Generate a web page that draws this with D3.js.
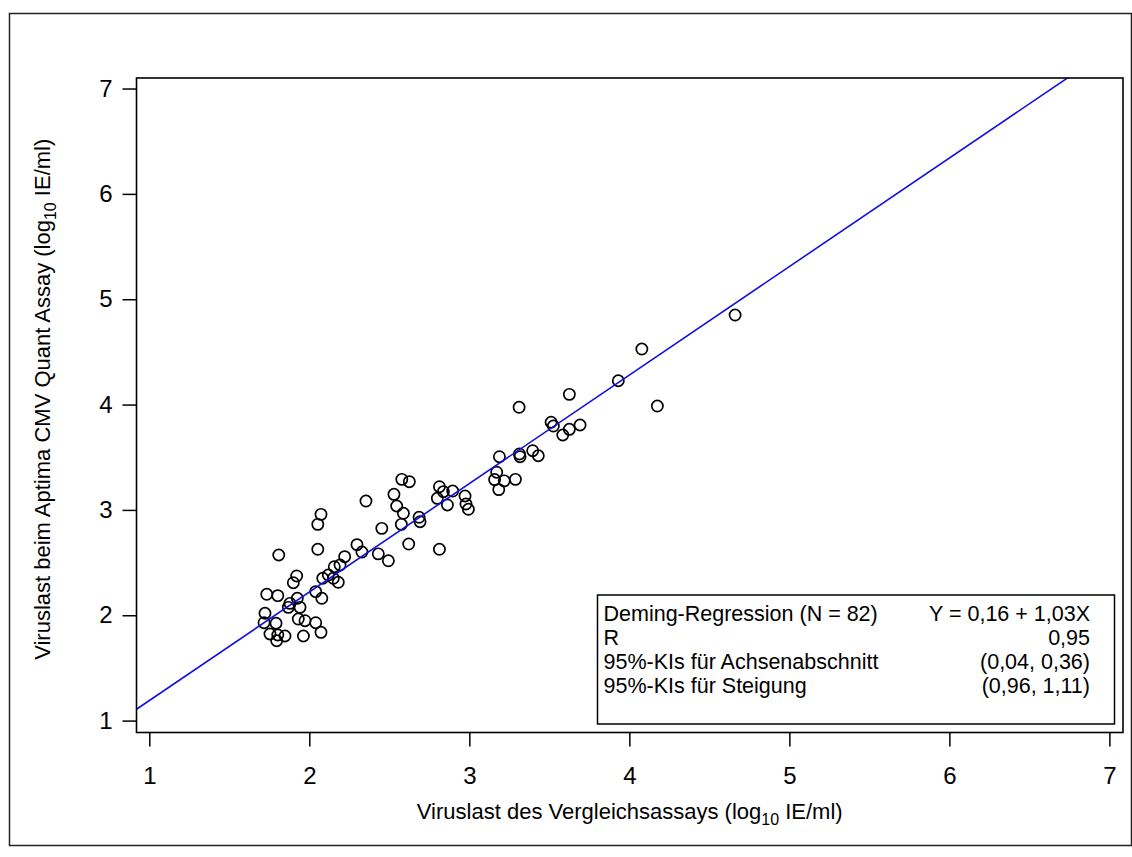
<!DOCTYPE html>
<html>
<head>
<meta charset="utf-8">
<script src="https://cdn.jsdelivr.net/npm/d3@7"></script>
<style>
  html, body { margin: 0; padding: 0; background: #fff; }
  svg { display: block; }
  text { font-family: "Liberation Sans", Arial, sans-serif; fill: #000; }
</style>
</head>
<body>
<svg id="chart" width="1132" height="857"></svg>
<script>
// ---- data ----
const comparatorLog = [
  2.354, 2.546, 2.588, 2.686, 2.575, 2.073, 2.053, 2.453, 2.621, 2.298,
  2.329, 2.053, 1.809, 2.221, 2.431, 2.494, 2.192, 2.156, 2.119, 2.084,
  2.150, 2.181, 1.921, 1.900, 1.734, 1.803, 2.040, 2.078, 1.879, 1.869,
  1.925, 1.942, 1.723, 1.717, 1.792, 1.931, 1.973, 2.040, 1.754, 1.803,
  1.848, 1.796, 1.963, 2.073, 2.692, 2.529, 2.578, 2.625, 2.813, 2.838,
  2.896, 2.800, 2.863, 2.973, 2.979, 2.994, 2.813, 3.311, 3.511, 3.525,
  3.625, 3.584, 3.692, 3.625, 3.188, 3.313, 3.317, 3.396, 3.431, 3.171,
  3.158, 3.218, 3.288, 3.184, 4.078, 3.931, 4.175, 4.661
];
const aptimaLog = [
  3.084, 3.037, 2.968, 2.930, 2.863, 2.958, 2.863, 2.825, 2.676, 2.670,
  2.600, 2.626, 2.572, 2.556, 2.583, 2.517, 2.477, 2.461, 2.382, 2.351,
  2.351, 2.313, 2.373, 2.309, 2.199, 2.186, 2.224, 2.161, 2.113, 2.075,
  2.161, 2.075, 2.019, 1.929, 1.924, 1.964, 1.948, 1.929, 1.822, 1.813,
  1.803, 1.758, 1.803, 1.838, 2.888, 3.148, 3.290, 3.268, 3.220, 3.173,
  3.179, 3.110, 3.047, 3.132, 3.056, 3.006, 2.626, 3.974, 3.832, 3.796,
  3.765, 3.711, 3.806, 4.097, 3.505, 3.531, 3.505, 3.562, 3.514, 3.358,
  3.288, 3.276, 3.290, 3.193, 4.527, 4.226, 3.986, 4.850
];
const regIntercept = 0.16;
const regSlope = 1.03;
const xTicks = [1, 2, 3, 4, 5, 6, 7];
const yTicks = [1, 2, 3, 4, 5, 6, 7];
const xDomain = [0.92, 7.085];
const yDomain = [0.887, 7.1];
const legendLeft = ["Deming-Regression (N = 82)", "R", "95%-KIs für Achsenabschnitt", "95%-KIs für Steigung"];
const legendRight = ["Y = 0,16 + 1,03X", "0,95", "(0,04, 0,36)", "(0,96, 1,11)"];

// ---- layout ----
const svg = d3.select("#chart");
const L = 136.5, R = 1123, T = 78, B = 732.5;

const x = d3.scaleLinear().domain(xDomain).range([L, R]);
const y = d3.scaleLinear().domain(yDomain).range([B, T]);

// outer border
svg.append("rect")
  .attr("x", 9.5).attr("y", 13.5)
  .attr("width", 1122).attr("height", 832)
  .attr("fill", "none").attr("stroke", "#222").attr("stroke-width", 1.5);

// clip
svg.append("defs").append("clipPath").attr("id", "plotclip")
  .append("rect").attr("x", L).attr("y", T).attr("width", R - L).attr("height", B - T);

// axes
const xAxis = svg.append("g").attr("transform", `translate(0,${B})`)
  .call(d3.axisBottom(x).tickValues(xTicks).tickSize(14).tickPadding(20).tickFormat(d3.format("d")));
const yAxis = svg.append("g").attr("transform", `translate(${L},0)`)
  .call(d3.axisLeft(y).tickValues(yTicks).tickSize(14).tickPadding(10).tickFormat(d3.format("d")));
[xAxis, yAxis].forEach(g => {
  g.select(".domain").remove();
  g.selectAll(".tick line").attr("stroke", "#000").attr("stroke-width", 1.5);
  g.selectAll(".tick text")
    .style("font-family", '"Liberation Sans", Arial, sans-serif')
    .style("font-size", "24px").attr("fill", "#000");
});

// points
const pts = comparatorLog.map((v, i) => ({ x: v, y: aptimaLog[i] }));
svg.append("g").selectAll("circle").data(pts).join("circle")
  .attr("cx", d => x(d.x)).attr("cy", d => y(d.y)).attr("r", 5.6)
  .attr("fill", "none").attr("stroke", "#000").attr("stroke-width", 1.7);

// regression line
svg.append("g").attr("clip-path", "url(#plotclip)").append("line")
  .attr("x1", x(xDomain[0])).attr("y1", y(regIntercept + regSlope * xDomain[0]))
  .attr("x2", x(xDomain[1])).attr("y2", y(regIntercept + regSlope * xDomain[1]))
  .attr("stroke", "#1010e0").attr("stroke-width", 1.6);

// plot frame
svg.append("rect")
  .attr("x", L).attr("y", T).attr("width", R - L).attr("height", B - T)
  .attr("fill", "none").attr("stroke", "#000").attr("stroke-width", 1.6);

// axis titles
const xt = svg.append("text").attr("x", (L + R) / 2).attr("y", 819)
  .attr("text-anchor", "middle").style("font-size", "22px");
xt.append("tspan").text("Viruslast des Vergleichsassays (log");
xt.append("tspan").attr("dy", 6).style("font-size", "16px").text("10");
xt.append("tspan").attr("dy", -6).text(" IE/ml)");

const yt = svg.append("text").attr("transform", `translate(50,${(T + B) / 2 - 6}) rotate(-90)`)
  .attr("text-anchor", "middle").style("font-size", "22px");
yt.append("tspan").text("Viruslast beim Aptima CMV Quant Assay (log");
yt.append("tspan").attr("dy", 6).style("font-size", "16px").text("10");
yt.append("tspan").attr("dy", -6).text(" IE/ml)");

// legend / stats box
const lg = svg.append("g");
lg.append("rect").attr("x", 597.5).attr("y", 595).attr("width", 517).attr("height", 129)
  .attr("fill", "#fff").attr("stroke", "#000").attr("stroke-width", 1.5);
legendLeft.forEach((t, i) => {
  lg.append("text").attr("x", 603.5).attr("y", 621 + i * 24)
    .style("font-size", "21.5px").text(t);
});
legendRight.forEach((t, i) => {
  lg.append("text").attr("x", 1090).attr("y", 621 + i * 24)
    .attr("text-anchor", "end").style("font-size", "21.5px").text(t);
});
</script>
</body>
</html>
